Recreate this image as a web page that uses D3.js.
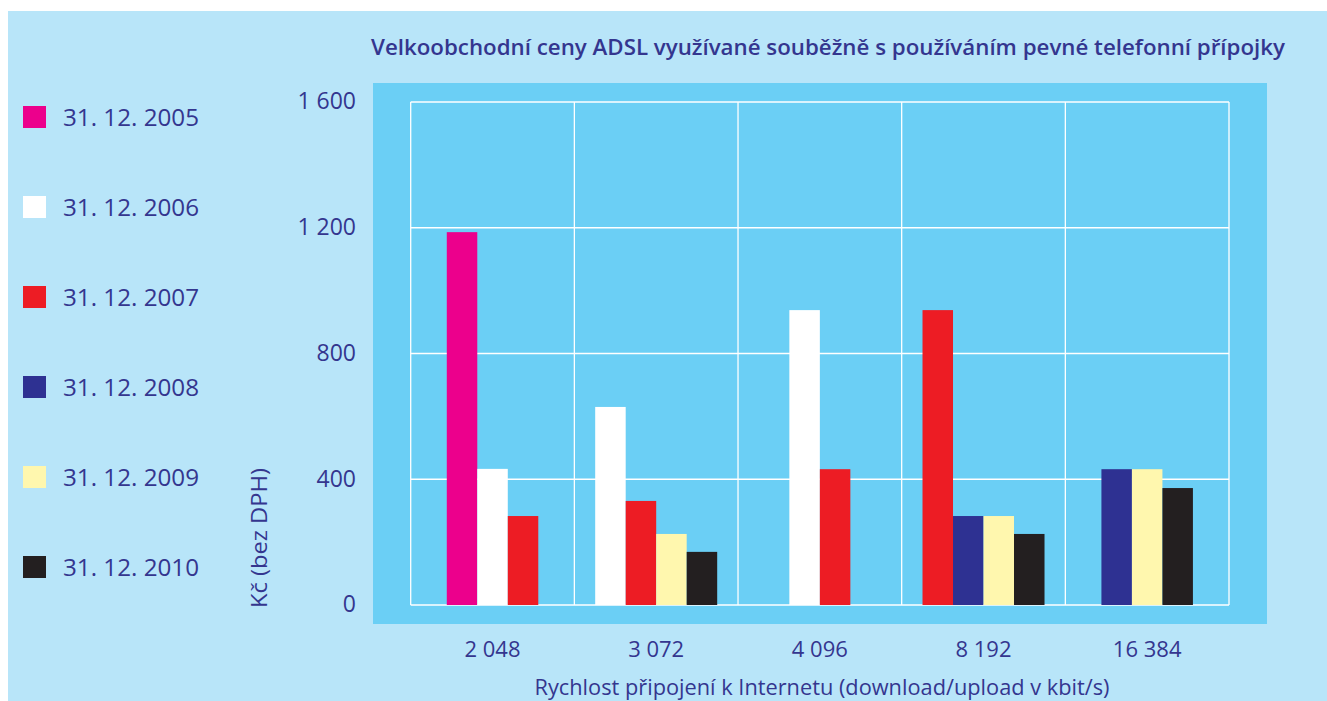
<!DOCTYPE html>
<html>
<head>
<meta charset="utf-8">
<script src="https://cdn.jsdelivr.net/npm/d3@7"></script>
<style>
  body { margin: 0; background: #fff; }
  svg { display: block; }
  .lbl { font-family: "Open Sans", "DejaVu Sans", sans-serif; fill: #34368f; }
</style>
</head>
<body>
<div id="chart"></div>
<script>
// Chart data
const categories = ["2 048", "3 072", "4 096", "8 192", "16 384"];
const seriesNames = ["31. 12. 2005", "31. 12. 2006", "31. 12. 2007", "31. 12. 2008", "31. 12. 2009", "31. 12. 2010"];
const seriesColors = ["#ec008c", "#ffffff", "#ed1c24", "#2e3192", "#fff7ae", "#231f20"];
const s2005 = [1186, null, null, null, null];
const s2006 = [433, 630, 938, null, null];
const s2007 = [283, 331, 432, 938, null];
const s2008 = [null, null, null, 283, 432];
const s2009 = [null, 226, null, 283, 432];
const s2010 = [null, 169, null, 226, 372];
const yTicks = [0, 400, 800, 1200, 1600];
const titleText = "Velkoobchodní ceny ADSL využívané souběžně s používáním pevné telefonní přípojky";
const xTitle = "Rychlost připojení k Internetu (download/upload v kbit/s)";
const yTitle = "Kč (bez DPH)";

const allSeries = [s2005, s2006, s2007, s2008, s2009, s2010];

function drawChart() {
    const W = 1327, H = 701;
    const svg = d3.select("#chart").append("svg")
        .attr("width", W)
        .attr("height", H);

    // backgrounds
    svg.append("rect").attr("x", 8).attr("y", 11).attr("width", W - 8).attr("height", H - 11)
        .attr("fill", "#b8e5f9");
    svg.append("rect").attr("x", 373).attr("y", 83).attr("width", 894).attr("height", 541)
        .attr("fill", "#6bcff5");

    // scales
    const x = d3.scaleBand().domain(categories).range([410.7, 1229]).padding(0);
    const y = d3.scaleLinear().domain([0, 1600]).range([605, 102]);
    const barW = 30.5;

    // grid
    const grid = svg.append("g").attr("stroke", "#ffffff").attr("stroke-width", 1.3);
    yTicks.forEach(t => {
        grid.append("line").attr("x1", x.range()[0]).attr("x2", x.range()[1])
            .attr("y1", y(t)).attr("y2", y(t));
    });
    const bounds = categories.map(c => x(c)).concat([x.range()[1]]);
    bounds.forEach(b => {
        grid.append("line").attr("x1", b).attr("x2", b)
            .attr("y1", y(1600)).attr("y2", y(0));
    });

    // bars: only existing values, packed and centred in each category
    categories.forEach((cat, ci) => {
        const present = [];
        allSeries.forEach((s, si) => {
            if (s[ci] != null) present.push({ si: si, v: s[ci] });
        });
        const center = x(cat) + x.bandwidth() / 2;
        const slot = d3.scaleBand().domain(d3.range(present.length))
            .range([center - present.length * barW / 2, center + present.length * barW / 2]);
        svg.append("g").selectAll("rect")
            .data(present)
            .enter()
            .append("rect")
            .attr("x", (d, i) => slot(i))
            .attr("width", slot.bandwidth())
            .attr("y", d => y(d.v))
            .attr("height", d => y(0) - y(d.v))
            .attr("fill", d => seriesColors[d.si]);
    });

    // y tick labels
    const fmt = d3.formatLocale({ decimal: ",", thousands: " ", grouping: [3], currency: ["", ""] }).format(",");
    svg.append("g").selectAll("text")
        .data(yTicks)
        .enter()
        .append("text")
        .attr("class", "lbl")
        .attr("x", 356)
        .attr("y", d => y(d) - 1)
        .attr("dy", "0.36em")
        .attr("text-anchor", "end")
        .style("font-size", "23px")
        .text(d => fmt(d));

    // x tick labels
    svg.append("g").selectAll("text")
        .data(categories)
        .enter()
        .append("text")
        .attr("class", "lbl")
        .attr("x", d => x(d) + x.bandwidth() / 2)
        .attr("y", 657)
        .attr("text-anchor", "middle")
        .style("font-size", "22px")
        .text(d => d);

    // axis titles
    svg.append("text")
        .attr("class", "lbl")
        .attr("x", 822)
        .attr("y", 695)
        .attr("text-anchor", "middle")
        .attr("textLength", 575)
        .attr("lengthAdjust", "spacingAndGlyphs")
        .style("font-size", "22px")
        .text(xTitle);

    svg.append("text")
        .attr("class", "lbl")
        .attr("transform", "translate(267, 538) rotate(-90)")
        .attr("text-anchor", "middle")
        .attr("textLength", 140)
        .attr("lengthAdjust", "spacingAndGlyphs")
        .style("font-size", "22px")
        .text(yTitle);

    // chart title
    svg.append("text")
        .attr("class", "lbl")
        .attr("x", 371)
        .attr("y", 55)
        .attr("textLength", 914)
        .attr("lengthAdjust", "spacingAndGlyphs")
        .style("font-size", "22px")
        .style("font-weight", "600")
        .text(titleText);

    // legend
    const legend = svg.append("g");
    seriesNames.forEach((name, i) => {
        const cy = 117 + i * 90;
        legend.append("rect")
            .attr("x", 23).attr("y", cy - 11)
            .attr("width", 23).attr("height", 22)
            .attr("fill", seriesColors[i]);
        legend.append("text")
            .attr("class", "lbl")
            .attr("x", 63)
            .attr("y", cy)
            .attr("dy", "0.36em")
            .attr("textLength", 136)
            .attr("lengthAdjust", "spacingAndGlyphs")
            .style("font-size", "24px")
            .text(name);
    });
}

drawChart();
</script>
</body>
</html>
